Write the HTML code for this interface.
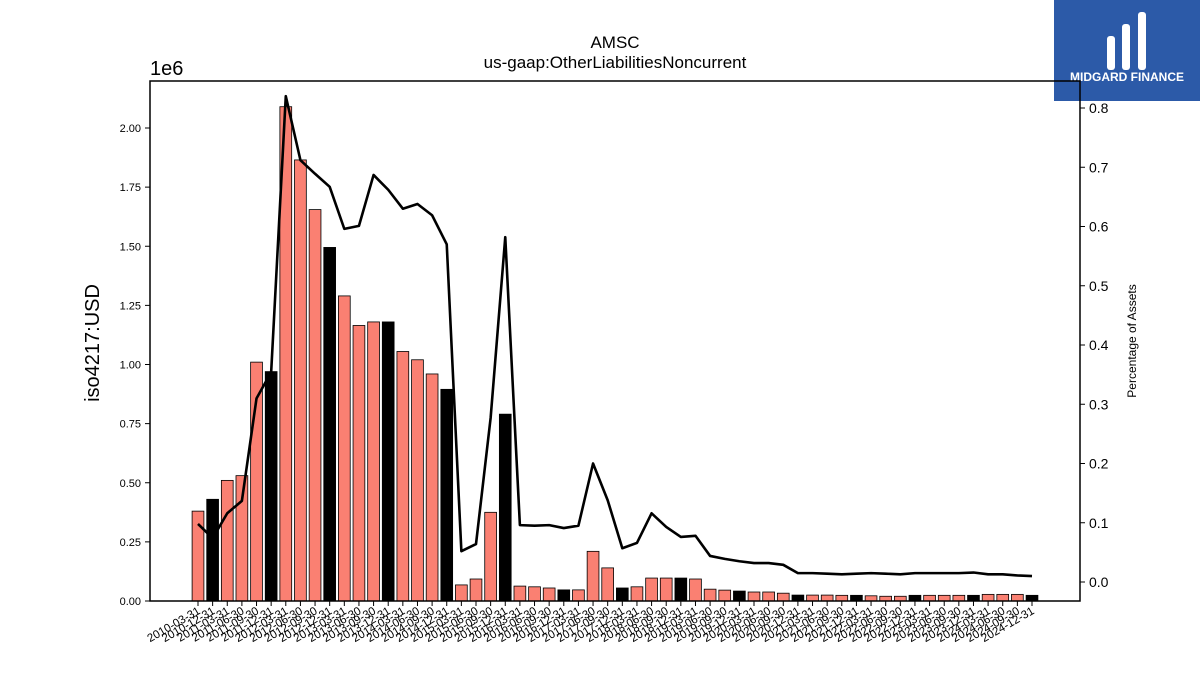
<!DOCTYPE html>
<html><head><meta charset="utf-8"><style>
body{margin:0;background:#fff;}
svg{display:block;font-family:"Liberation Sans","DejaVu Sans",sans-serif;}
</style></head><body>
<svg id="chart" width="1200" height="675">
<rect x="1054" y="0" width="146" height="101" fill="#2c5aa8"/>
<g fill="#fff">
<rect x="1107" y="36" width="8" height="34" rx="3"/>
<rect x="1122" y="24" width="8" height="46" rx="3"/>
<rect x="1138" y="12" width="8" height="58" rx="3"/>
</g>
<text x="1127" y="81" fill="#fff" font-size="12" font-weight="bold" text-anchor="middle">MIDGARD FINANCE</text>
<text x="615" y="48" font-size="17" text-anchor="middle">AMSC</text>
<text x="615" y="68" font-size="17" text-anchor="middle">us-gaap:OtherLiabilitiesNoncurrent</text>
<text x="150" y="75" font-size="20">1e6</text>
<text transform="translate(99,343) rotate(-90)" font-size="20" text-anchor="middle">iso4217:USD</text>
<text transform="translate(1136,341) rotate(-90)" font-size="12" text-anchor="middle">Percentage of Assets</text>
<g id="bars"></g><g id="line"></g><g id="axes"></g>
<rect x="150" y="81" width="930" height="520" fill="none" stroke="#000" stroke-width="1.5"/>
</svg>
<script>
const categories=[];
(function(){categories.push('2010-03-31');const e=['03-31','06-30','09-30','12-31'];categories.push('2010-12-31');for(let y=2011;y<=2024;y++)for(const s of e)categories.push(y+'-'+s);})();
const barValues=[0.38,0.43,0.51,0.53,1.01,0.97,2.09,1.865,1.655,1.495,1.29,1.165,1.18,1.18,1.055,1.02,0.96,0.895,0.068,0.093,0.375,0.79,0.063,0.06,0.055,0.047,0.047,0.21,0.14,0.055,0.06,0.097,0.097,0.097,0.093,0.05,0.046,0.042,0.038,0.038,0.033,0.025,0.025,0.025,0.024,0.024,0.022,0.02,0.02,0.024,0.024,0.024,0.024,0.024,0.028,0.028,0.028,0.024];
const pctValues=[0.098,0.074,0.116,0.137,0.31,0.354,0.82,0.712,0.689,0.667,0.596,0.601,0.687,0.662,0.63,0.638,0.619,0.57,0.052,0.064,0.277,0.582,0.096,0.095,0.096,0.091,0.095,0.2,0.138,0.057,0.066,0.116,0.093,0.076,0.078,0.044,0.039,0.035,0.032,0.032,0.029,0.015,0.015,0.014,0.013,0.014,0.015,0.014,0.013,0.015,0.015,0.015,0.015,0.016,0.013,0.013,0.011,0.010];
const leftTicks=[0,0.25,0.5,0.75,1.0,1.25,1.5,1.75,2.0];
const leftTickLabels=['0.00','0.25','0.50','0.75','1.00','1.25','1.50','1.75','2.00'];
const rightTicks=[0,0.1,0.2,0.3,0.4,0.5,0.6,0.7,0.8];
const NS='http://www.w3.org/2000/svg';
const yL=v=>601-v*236.5;
const yR=v=>582-v*592.5;
const n=categories.length;
const xS=i=>198+i*(1032-198)/(n-1);
function mk(t,a,p){const e=document.createElementNS(NS,t);for(const k in a)e.setAttribute(k,a[k]);p.appendChild(e);return e;}
const bars=document.getElementById('bars'),line=document.getElementById('line'),axes=document.getElementById('axes');
const bw=11.8;
barValues.forEach((v,i)=>{const q4=categories[i].endsWith('12-31');
const r=mk('rect',{x:xS(i)-bw/2,y:yL(v),width:bw,height:601-yL(v),fill:q4?'#000':'#fa8072',stroke:'#000','stroke-width':0.8},bars);

});
const pl=mk('polyline',{points:pctValues.map((v,i)=>xS(i)+','+yR(v)).join(' '),fill:'none',stroke:'#000','stroke-width':2.6,'stroke-linejoin':'round'},line);


leftTicks.forEach((v,i)=>{mk('line',{x1:145,x2:150,y1:yL(v),y2:yL(v),stroke:'#000'},axes);
const t=mk('text',{x:141,y:yL(v)+4,'font-size':11,'text-anchor':'end'},axes);t.textContent=leftTickLabels[i];

});
rightTicks.forEach(v=>{mk('line',{x1:1080,x2:1085,y1:yR(v),y2:yR(v),stroke:'#000'},axes);
const t=mk('text',{x:1089,y:yR(v)+5,'font-size':14},axes);t.textContent=v.toFixed(1);

});
categories.forEach((c,i)=>{const x=xS(i);mk('line',{x1:x,x2:x,y1:601,y2:606,stroke:'#000'},axes);
const t=mk('text',{transform:'translate('+(x+3)+',613) rotate(-30)','font-size':11.5,'text-anchor':'end'},axes);t.textContent=c;

});
</script>
</body></html>
